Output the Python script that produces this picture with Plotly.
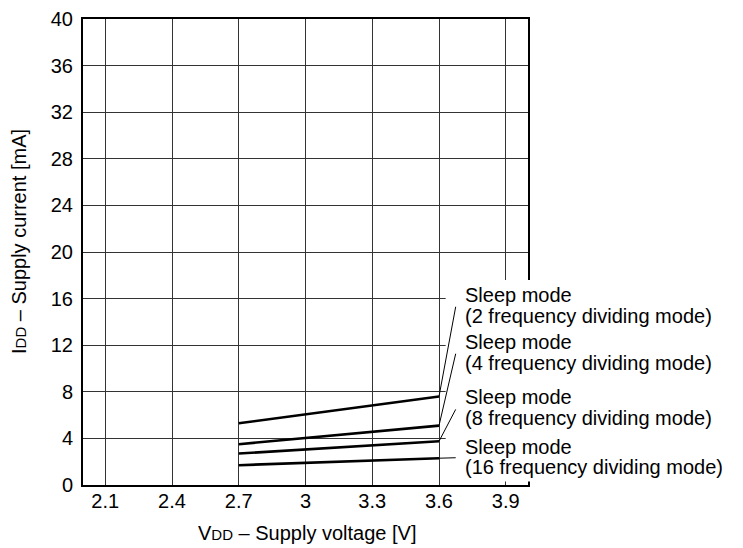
import plotly.graph_objects as go

# Data
voltage = [2.7, 3.6]
mode_names = [
    "2 frequency dividing mode",
    "4 frequency dividing mode",
    "8 frequency dividing mode",
    "16 frequency dividing mode",
]
current_2div = [5.3, 7.6]
current_4div = [3.5, 5.1]
current_8div = [2.7, 3.75]
current_16div = [1.7, 2.3]
x_ticks = [2.1, 2.4, 2.7, 3.0, 3.3, 3.6, 3.9]
x_tick_labels = ["2.1", "2.4", "2.7", "3", "3.3", "3.6", "3.9"]
y_ticks = [0, 4, 8, 12, 16, 20, 24, 28, 32, 36, 40]

series = [current_2div, current_4div, current_8div, current_16div]

FONT = "Liberation Sans, Arial, sans-serif"
FS = 20

# page has an 8px body margin; layout sized to fit the window
W, H = 735, 540
ML, MR, MT, MB = 75, 215, 11, 63
PW, PH = W - ML - MR, H - MT - MB

fig = go.Figure()
for name, ys in zip(mode_names, series):
    fig.add_trace(go.Scatter(x=voltage, y=ys, mode="lines", name=name,
                             line=dict(color="black", width=2.6),
                             showlegend=False, hoverinfo="skip"))

fig.update_layout(
    width=W, height=H,
    margin=dict(l=ML, r=MR, t=MT, b=MB, autoexpand=False),
    paper_bgcolor="white", plot_bgcolor="white",
    font=dict(family=FONT, size=FS, color="black"),
    showlegend=False,
)
fig.update_xaxes(
    range=[2.0, 4.0], tickvals=x_ticks, ticktext=x_tick_labels,
    showgrid=True, gridcolor="#333", gridwidth=1,
    showline=True, linecolor="black", linewidth=2, mirror=True,
    ticks="", zeroline=False, ticklabelstandoff=-3, automargin=False,
    ticklabeloverflow="allow",
)
fig.update_yaxes(
    range=[0, 40], tickvals=y_ticks,
    showgrid=True, gridcolor="#333", gridwidth=1,
    showline=True, linecolor="black", linewidth=2, mirror=True,
    ticks="", zeroline=False, ticklabelstandoff=4, automargin=False,
    ticklabeloverflow="allow",
)

# axis titles
fig.add_annotation(xref="paper", yref="paper", x=(307 - 8 - ML) / PW,
                   y=-(533 - 8 - (MT + PH)) / PH,
                   text="V<span style='font-size:15px'>DD</span> – Supply voltage [V]",
                   showarrow=False, xanchor="center", yanchor="middle", font=dict(size=FS))
fig.add_annotation(xref="paper", yref="paper", x=-(ML - (19 - 8)) / PW,
                   y=(MT + PH - (242 - 8)) / PH, textangle=-90,
                   text="I<span style='font-size:15px'>DD</span> – Supply current [mA]",
                   showarrow=False, xanchor="center", yanchor="middle", font=dict(size=FS))

# white panel for the label area (grid stops there)
fig.add_shape(type="rect", xref="paper", yref="paper",
              x0=(3.63 - 2.0) / 2.0, x1=1.02, y0=0.3 / 40, y1=17.6 / 40,
              fillcolor="white", line=dict(width=0), layer="above")

# leader lines from line ends to labels
label_x = 3.675
leader_ends = [15.3, 11.27, 6.49, 2.34]
for ys, ye in zip(series, leader_ends):
    fig.add_shape(type="line", xref="x", yref="y",
                  x0=voltage[-1], y0=ys[-1], x1=label_x, y1=ye,
                  line=dict(color="black", width=1), layer="above")

# labels
text_x = 3.71
label_rows = [(16.35, 14.52), (12.26, 10.51), (7.53, 5.78), (3.24, 1.55)]
for name, (ya, yb) in zip(mode_names, label_rows):
    fig.add_annotation(x=text_x, y=ya, xref="x", yref="y", text="Sleep mode",
                       showarrow=False, xanchor="left", yanchor="middle",
                       font=dict(size=FS))
    fig.add_annotation(x=text_x, y=yb, xref="x", yref="y", text="(" + name + ")",
                       showarrow=False, xanchor="left", yanchor="middle",
                       font=dict(size=FS))

fig.write_html("out.html")
